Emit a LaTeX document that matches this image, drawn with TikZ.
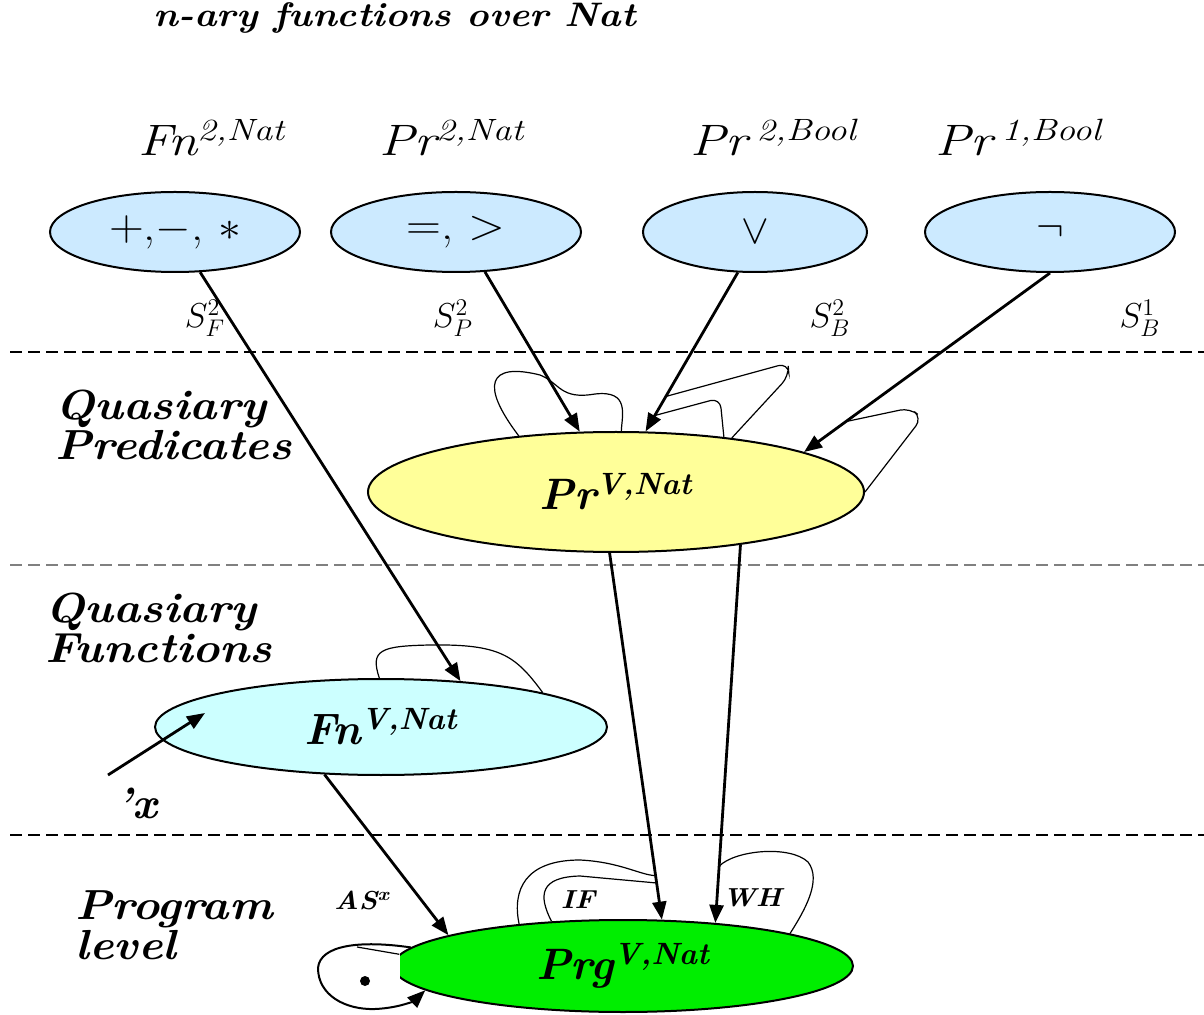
\documentclass[tikz,border=0pt]{standalone}
\usepackage{fontspec}
\newcommand{\stretchtxt}[2][1.2]{\scalebox{#1}[1]{#2}}
\usetikzlibrary{shapes.geometric, arrows.meta, positioning, calc}
\definecolor{opblue}{RGB}{204,234,255}
\definecolor{predyellow}{RGB}{255,255,153}
\definecolor{fncyan}{RGB}{204,255,255}
\definecolor{prggreen}{RGB}{0,238,0}
\tikzset{
  opnode/.style={
    ellipse, draw=black, fill=opblue, line width=1pt,
    minimum width=125pt, minimum height=40pt, inner sep=0pt,
    font=\fontsize{22}{22}\selectfont,
  },
  bignode/.style={
    ellipse, draw=black, line width=1pt, inner sep=0pt,
    font=\bfseries\itshape\fontsize{22}{22}\selectfont,
  },
  arrow/.style={-{Triangle[length=9pt,width=7pt]}, line width=1.4pt},
  loopline/.style={line width=0.6pt},
  sepline/.style={dash pattern=on 6pt off 3pt, line width=1.2pt},
  sortlbl/.style={font=\itshape\fontsize{22}{22}\selectfont},
  sigma/.style={font=\fontsize{18}{18}\selectfont},
  lvllbl/.style={anchor=west, align=left, inner sep=0pt,
    font=\bfseries\itshape\fontsize{21}{20}\selectfont\addfontfeature{LetterSpace=5}},
  tag/.style={font=\bfseries\itshape\fontsize{13}{13}\selectfont},
}

\begin{document}
\begin{tikzpicture}[x=0.5pt, y=-0.5pt]
  \useasboundingbox (0,0) rectangle (1204,1015);

  \node[font=\bfseries\itshape\fontsize{17}{17}\selectfont] (title) at (395,18) {\stretchtxt[1.12]{n-ary functions over Nat}};

  % Level separators
  \draw[sepline] (10,352) -- (1204,352);
  \draw[sepline, line width=0.7pt, gray] (10,565) -- (1204,565);
  \draw[sepline] (10,835) -- (1204,835);

  % Level names
  \node[lvllbl] (predlvl) at (55,425) {\stretchtxt[1.1]{Quasiary}\\\stretchtxt[1.1]{Predicates}};
  \node[lvllbl] (fnlvl)   at (45,628) {\stretchtxt[1.1]{Quasiary}\\\stretchtxt[1.1]{Functions}};
  \node[lvllbl] (prglvl)  at (75,925) {\stretchtxt[1.1]{Program}\\\stretchtxt[1.1]{level}};

  % n-ary operations
  \node[opnode] (fnop)  at (175,232) {\stretchtxt[1.1]{+,$-$, $\ast$}};
  \node[opnode] (prop)  at (456,232) {\stretchtxt[1.1]{=, >}};
  \node[opnode, minimum width=112pt] (orop) at (755,232) {$\vee$};
  \node[opnode] (notop) at (1050,232) {$\neg$};

  \node[sortlbl] (fnsort)  at (212,138) {\stretchtxt{Fn\textsuperscript{2,Nat}}};
  \node[sortlbl] (prsort)  at (452,138) {\stretchtxt{Pr\textsuperscript{2,Nat}}};
  \node[sortlbl] (orsort)  at (774,138) {\stretchtxt{Pr\,\textsuperscript{2,Bool}}};
  \node[sortlbl] (notsort) at (1019,138) {\stretchtxt{Pr\,\textsuperscript{1,Bool}}};

  \node[sigma] (sigf) at (205,318) {$S_F^2$};
  \node[sigma] (sigp) at (453,318) {$S_P^2$};
  \node[sigma] (sigb) at (830,318) {$S_B^2$};
  \node[sigma] (sign) at (1140,318) {$S_B^1$};

  % Quasiary classes
  \node[bignode, fill=predyellow, minimum width=248pt, minimum height=60pt] (prnode) at (616,492) {Pr\textsuperscript{V,Nat}};
  \node[bignode, fill=fncyan, minimum width=226pt, minimum height=48pt] (fnnode) at (381,727) {Fn\textsuperscript{V,Nat}};
  \begin{scope}
    \clip (400,850) rectangle (1204,1015);
    \node[bignode, fill=prggreen, minimum width=230pt, minimum height=46pt] (prgnode) at (623,966) {Prg\textsuperscript{V,Nat}};
  \end{scope}

  % Main arrows
  \foreach \from/\to in {
    fnop.-58/fnnode.30, prop.-54/prnode.121, orop.247/prnode.64,
    notop.south/prnode.12, prnode.264/prgnode.50, prnode.-23/prgnode.25,
    fnnode.220/prgnode.170}
    \draw[arrow] (\from) -- (\to);

  \coordinate (xfrom) at (108,775);
  \coordinate (xto) at (205,713);
  \draw[arrow] (xfrom) -- (xto);
  \node[font=\bfseries\itshape\fontsize{22}{22}\selectfont] (xlbl) at (137,803) {'x};

  % Self loops
  \draw[loopline] (prnode.150) .. controls (480,385) and (488,362) .. (540,375)
    .. controls (560,383) and (560,400) .. (595,394) .. controls (630,390) and (622,415) .. (prnode.85);
  \draw[loopline, rounded corners=5pt] ($(orop.247)!0.9!(prnode.64)$) -- (720,398) -- (prnode.27);
  \draw[loopline, rounded corners=5pt] ($(orop.247)!0.78!(prnode.64)$) -- (788,363) -- (789,376) -- (prnode.25);
  \draw[loopline, rounded corners=5pt] ($(notop.south)!0.83!(prnode.12)$) -- (910,408) -- (922,418) -- (prnode.0);
  \draw[loopline] (fnnode.92) .. controls (370,650) and (380,646) .. (430,645)
    .. controls (500,644) and (515,655) .. (fnnode.12);
  \draw[loopline] (prgnode.158) .. controls (512,890) and (525,860) .. (580,860)
    .. controls (620,862) and (640,875) .. ($(prnode.264)!0.88!(prgnode.50)$);
  \draw[loopline] (prgnode.148) .. controls (538,895) and (540,877) .. (580,876)
    -- ($(prnode.264)!0.9!(prgnode.50)$);
  \draw[loopline] ($(prnode.-23)!0.85!(prgnode.25)$) .. controls (735,850) and (790,845) .. (808,862)
    .. controls (822,880) and (805,910) .. (prgnode.11);

  \node[tag] (aslbl) at (362,900) {\stretchtxt[1.1]{AS\textsuperscript{x}}};
  \node[tag] (iflbl) at (578,900) {\stretchtxt[1.1]{IF}};
  \node[tag] (whlbl) at (752,898) {\stretchtxt[1.1]{WH}};

  % Composition loop
  \node[circle, fill, inner sep=0pt, minimum size=5pt] (dot) at (365,981) {};
  \draw[line width=1pt, -{Triangle[length=9pt,width=7pt]}] (prgnode.175) .. controls (360,940) and (320,945) .. (318,968)
    .. controls (318,995) and (345,1010) .. (375,1009) .. controls (400,1008) and (415,1000) .. (prgnode.187);
  \draw[loopline] (prgnode.177) -- (357,947);

\end{tikzpicture}
\end{document}
